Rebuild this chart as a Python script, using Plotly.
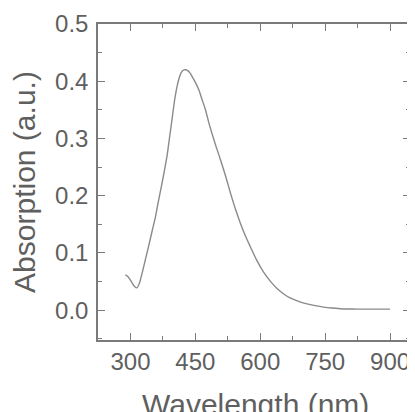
import plotly.graph_objects as go

wavelength = [288, 295, 302, 309, 315, 321, 328, 335, 342, 350, 358, 365, 373, 379, 385,
              390, 396, 400, 404, 408, 412, 416, 420, 424, 428, 433, 437, 442, 450,
              458, 465, 473, 482, 492, 500, 508, 520, 531, 542, 554, 565, 577, 592,
              608, 624, 640, 655, 670, 690, 708, 727, 746, 765, 785, 804, 823, 860, 900]
absorption = [0.062, 0.058, 0.050, 0.042, 0.039, 0.048, 0.068, 0.090, 0.112, 0.138,
              0.164, 0.192, 0.222, 0.246, 0.272, 0.300, 0.333, 0.356, 0.376, 0.392,
              0.404, 0.413, 0.418, 0.420, 0.420, 0.418, 0.415, 0.409, 0.398,
              0.385, 0.369, 0.351, 0.325, 0.300, 0.281, 0.263, 0.234, 0.205, 0.178,
              0.152, 0.131, 0.111, 0.087, 0.066, 0.050, 0.037, 0.028, 0.021, 0.015,
              0.011, 0.008, 0.0055, 0.0038, 0.0027, 0.0022, 0.002, 0.002, 0.002]

x_ticks = [300, 450, 600, 750, 900]
y_ticks = [0.0, 0.1, 0.2, 0.3, 0.4, 0.5]
x_title = "Wavelength (nm)"
y_title = "Absorption (a.u.)"

AXC = "#7a7a7a"
TXC = "#5f5f5f"
FONT = "Liberation Sans, Arial"

fig = go.Figure()
fig.add_trace(go.Scatter(x=wavelength, y=absorption, mode="lines",
                         line=dict(color="#8a8a8a", width=1.4, shape="spline", smoothing=0.8),
                         showlegend=False))

axis_common = dict(showline=True, linecolor=AXC, linewidth=1.5, mirror="ticks",
                   ticks="inside", ticklen=7, tickwidth=1.2, tickcolor=AXC,
                   showgrid=False, zeroline=False, automargin=False,
                   tickfont=dict(family=FONT, size=24, color=TXC),
                   title_font=dict(family=FONT, size=30, color=TXC))

fig.update_xaxes(range=[225, 946], tickvals=x_ticks,
                 ticktext=[str(v) for v in x_ticks], ticklabelstandoff=-1,
                 minor=dict(ticks="inside", ticklen=4, tickcolor=AXC, tickwidth=1.2, dtick=75, tick0=300),
                 **axis_common)
fig.update_yaxes(range=[-0.052, 0.5], tickvals=y_ticks,
                 ticktext=[f"{v:.1f}" for v in y_ticks], ticklabelstandoff=3,
                 minor=dict(ticks="inside", ticklen=4, tickcolor=AXC, tickwidth=1.2, dtick=0.05, tick0=0),
                 title_text=y_title, title_standoff=11, **axis_common)

# x-axis title sits partly below the bottom edge, as in the reference
fig.add_annotation(text=x_title, xref="paper", yref="paper", x=0.506, y=-0.204,
                   xanchor="center", yanchor="middle", showarrow=False,
                   font=dict(family=FONT, size=30, color=TXC))

# page body has an 8px default margin, so the figure is offset accordingly
fig.update_layout(width=407, height=404, margin=dict(l=90, r=5, t=16, b=72),
                  paper_bgcolor="white", plot_bgcolor="white")

fig.write_html("out.html")
